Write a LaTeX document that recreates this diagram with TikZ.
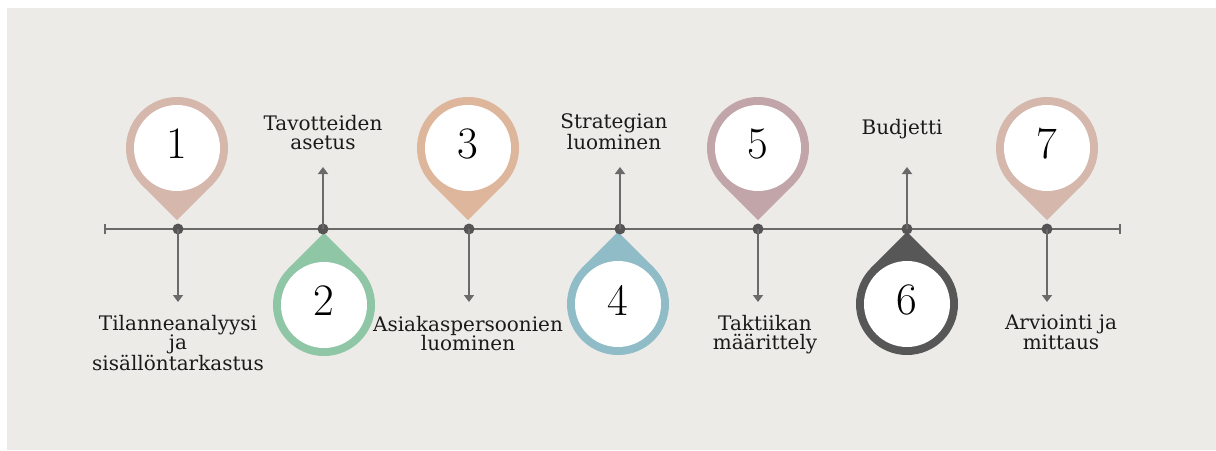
\documentclass[tikz,border=0pt]{standalone}
\usepackage{fontspec}
\newfontfamily\labelfont{DejaVu Serif}
\usetikzlibrary{arrows.meta}
\definecolor{bgc}{HTML}{EDEBE7}
\definecolor{linec}{HTML}{6A6A6A}
\definecolor{dotc}{HTML}{555555}
\definecolor{txtc}{HTML}{1A1A1A}
\definecolor{rose}{HTML}{D5B7AC}
\definecolor{peach}{HTML}{DDB69C}
\definecolor{mauve}{HTML}{C1A5A8}
\definecolor{mint}{HTML}{8FC6A6}
\definecolor{teal}{HTML}{8FBCC7}
\definecolor{slate}{HTML}{575757}
\tikzset{
  axis/.style={draw=linec, line width=2.6pt},
  dot/.style={circle, fill=dotc, inner sep=0pt, minimum size=11pt},
  conn/.style={draw=linec, line width=2.4pt, -{Triangle[length=7pt,width=10pt]}},
  numtext/.style={inner sep=0pt, text=black, font=\fontsize{45}{45}\selectfont, yshift=4pt},
  labeltext/.style={align=center, inner sep=0pt, text=txtc, font=\labelfont\fontsize{20}{19.5}\selectfont},
  pics/droppin/.style n args={3}{code={
    \fill[#1] (0,0) circle[radius=51];
    \fill[#1] (-36.06,#3*36.06) -- (0,#3*72.1) -- (36.06,#3*36.06) -- cycle;
    \fill[white] (0,0) circle[radius=43];
    \node[numtext] (-num) at (0,0) {#2};
  }}
}
\begin{document}
\begin{tikzpicture}[x=1pt,y=-1pt]
\useasboundingbox (0,0) rectangle (1216,450);
\fill[white] (0,0) rectangle (1216,450);
\fill[bgc] (7,8) rectangle (1216,450);

% timeline with end ticks
\coordinate (tl) at (105,229);
\coordinate (tr) at (1120,229);
\draw[axis] (tl) -- (tr);
\draw[axis] ([yshift=-5pt]tl) -- ([yshift=5pt]tl);
\draw[axis] ([yshift=-5pt]tr) -- ([yshift=5pt]tr);

% markers above the line (pointing down)
\pic (p1) at (177,148) {droppin={rose}{1}{1}};
\pic (p3) at (468,148) {droppin={peach}{3}{1}};
\pic (p5) at (758,148) {droppin={mauve}{5}{1}};
\pic (p7) at (1047,148) {droppin={rose}{7}{1}};
% markers below the line (pointing up)
\pic (p2) at (324,305) {droppin={mint}{2}{-1}};
\pic (p4) at (618,304) {droppin={teal}{4}{-1}};
\pic (p6) at (907,304) {droppin={slate}{6}{-1}};

% milestones on the line
\node[dot] (d1) at (178,229) {};
\node[dot] (d2) at (323,229) {};
\node[dot] (d3) at (469,229) {};
\node[dot] (d4) at (620,229) {};
\node[dot] (d5) at (758,229) {};
\node[dot] (d6) at (907,229) {};
\node[dot] (d7) at (1047,229) {};

% arrow ends
\coordinate (e1) at (178,302);
\coordinate (e3) at (469,302);
\coordinate (e5) at (758,302);
\coordinate (e7) at (1047,302);
\coordinate (e2) at (323,167);
\coordinate (e4) at (620,167);
\coordinate (e6) at (907,167);

\draw[conn] (d1.center) -- (e1);
\draw[conn] (d3.center) -- (e3);
\draw[conn] (d5.center) -- (e5);
\draw[conn] (d7.center) -- (e7);
\draw[conn] (d2.center) -- (e2);
\draw[conn] (d4.center) -- (e4);
\draw[conn] (d6.center) -- (e6);

% step labels
\node[labeltext, anchor=north] (t1) at (178,315) {Tilanneanalyysi\\ja\\sisällöntarkastus};
\node[labeltext, anchor=north] (t3) at (468,316) {Asiakaspersoonien\\luominen};
\node[labeltext, anchor=north] (t5) at (765,315) {Taktiikan\\määrittely};
\node[labeltext, anchor=north] (t7) at (1061,315) {Arviointi ja\\mittaus};
\node[labeltext, anchor=south] (t2) at (323,150) {Tavotteiden\\asetus};
\node[labeltext, anchor=south] (t4) at (614,150) {Strategian\\luominen};
\node[labeltext, anchor=south] (t6) at (902,139) {Budjetti};
\end{tikzpicture}
\end{document}
